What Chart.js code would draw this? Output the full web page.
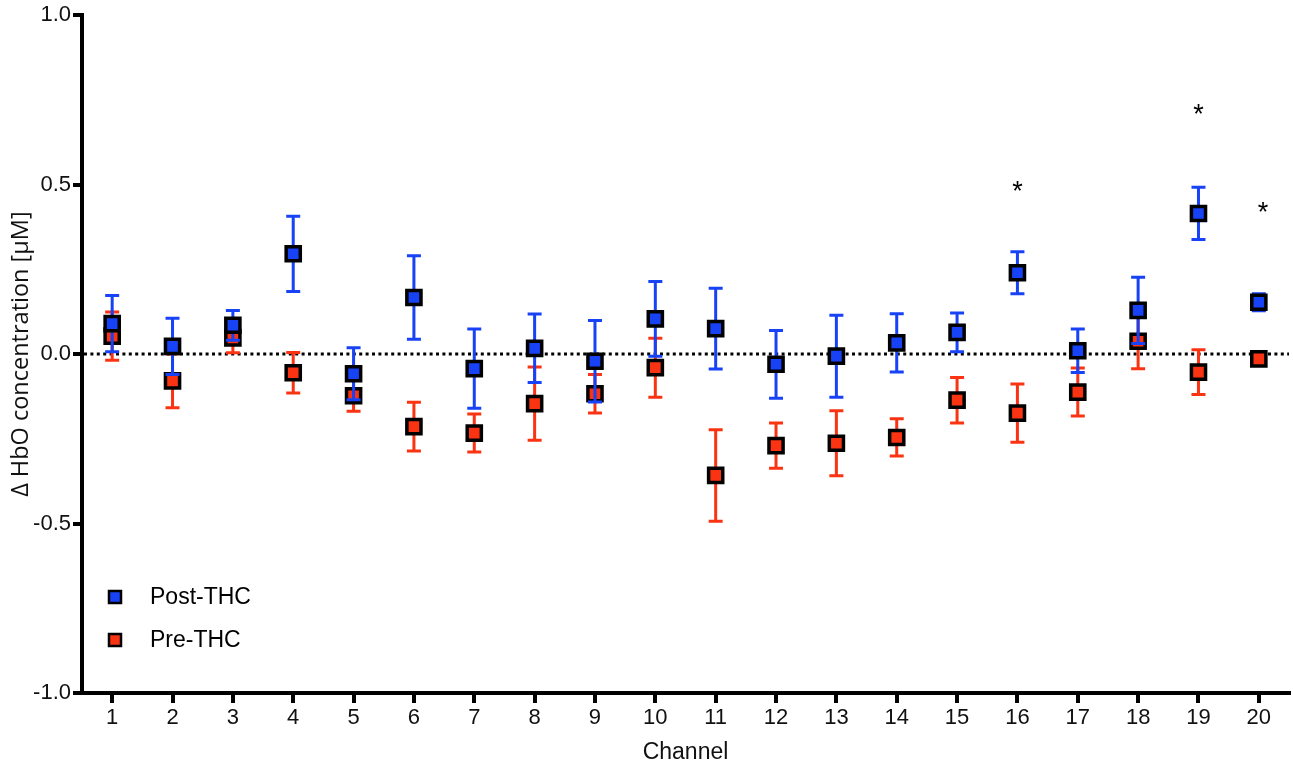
<!DOCTYPE html>
<html lang="en">
<head>
    <meta charset="UTF-8">
    <title>HbO by channel</title>
    <script src="https://cdn.jsdelivr.net/npm/chart.js"></script>
    <style>
        html, body { margin: 0; background: #fff; overflow: hidden; }
        #wrap { width: 1293px; height: 766px; }
    </style>
</head>
<body>
    <div id="wrap"><canvas id="hboChart"></canvas></div>

    <script>
        // values (mean and error per channel)
        const channels = [1, 2, 3, 4, 5, 6, 7, 8, 9, 10, 11, 12, 13, 14, 15, 16, 17, 18, 19, 20];
        const postMean = [0.09, 0.023, 0.085, 0.296, -0.058, 0.167, -0.043, 0.017, -0.021, 0.104,
                          0.075, -0.03, -0.006, 0.033, 0.064, 0.24, 0.01, 0.129, 0.415, 0.153];
        const postErr  = [0.083, 0.083, 0.044, 0.111, 0.077, 0.123, 0.117, 0.101, 0.12, 0.11,
                          0.119, 0.1, 0.121, 0.086, 0.057, 0.062, 0.064, 0.098, 0.077, 0.025];
        const preMean  = [0.053, -0.079, 0.048, -0.055, -0.123, -0.214, -0.233, -0.146, -0.117, -0.04,
                          -0.358, -0.27, -0.263, -0.246, -0.136, -0.174, -0.112, 0.038, -0.053, -0.014];
        const preErr   = [0.071, 0.079, 0.044, 0.06, 0.046, 0.072, 0.056, 0.108, 0.057, 0.087,
                          0.135, 0.067, 0.096, 0.055, 0.067, 0.086, 0.071, 0.081, 0.066, 0.01];
        const yTicks = [-1.0, -0.5, 0.0, 0.5, 1.0];
        // significance stars
        const starX = [16, 19, 20.07];
        const starY = [0.49, 0.72, 0.43];

        const BLUE = '#1742f5';
        const RED = '#fa3412';

        const errorBars = {
            id: 'errorBars',
            beforeDatasetDraw(chart, args) {
                const ds = chart.data.datasets[args.index];
                const y = chart.scales.y;
                const ctx = chart.ctx;
                ctx.save();
                ctx.strokeStyle = ds.barColor;
                ctx.lineWidth = 3;
                args.meta.data.forEach((pt, i) => {
                    const m = ds.data[i].y, e = ds.err[i];
                    const top = y.getPixelForValue(m + e);
                    const bot = y.getPixelForValue(m - e);
                    ctx.beginPath();
                    ctx.moveTo(pt.x, top); ctx.lineTo(pt.x, bot);
                    ctx.moveTo(pt.x - 7, top); ctx.lineTo(pt.x + 7, top);
                    ctx.moveTo(pt.x - 7, bot); ctx.lineTo(pt.x + 7, bot);
                    ctx.stroke();
                });
                ctx.restore();
            }
        };

        const zeroLine = {
            id: 'zeroLine',
            beforeDatasetsDraw(chart) {
                const {ctx, chartArea, scales} = chart;
                const y0 = scales.y.getPixelForValue(0);
                ctx.save();
                ctx.strokeStyle = '#000';
                ctx.lineWidth = 3;
                ctx.setLineDash([3, 3.4]);
                ctx.beginPath();
                ctx.moveTo(chartArea.left + 2, y0);
                ctx.lineTo(chartArea.right, y0);
                ctx.stroke();
                ctx.restore();
            }
        };

        const extras = {
            id: 'extras',
            afterDraw(chart) {
                const {ctx, chartArea, scales} = chart;
                ctx.save();
                // stars
                ctx.fillStyle = '#000';
                ctx.font = '27px "Liberation Sans", Arial, sans-serif';
                ctx.textAlign = 'center';
                ctx.textBaseline = 'middle';
                starX.forEach((sx, i) => {
                    ctx.fillText('*', scales.x.getPixelForValue(sx), scales.y.getPixelForValue(starY[i]) + 5);
                });
                // legend in the lower left corner
                ctx.textAlign = 'left';
                ctx.font = '23px "Liberation Sans", Arial, sans-serif';
                chart.data.datasets.forEach((ds, i) => {
                    const lx = chartArea.left + 33;
                    const ly = chartArea.bottom - 96 + i * 43;
                    ctx.fillStyle = ds.backgroundColor;
                    ctx.strokeStyle = '#000';
                    ctx.lineWidth = 2.5;
                    ctx.fillRect(lx - 6, ly - 6, 12, 12);
                    ctx.strokeRect(lx - 6, ly - 6, 12, 12);
                    ctx.fillStyle = '#000';
                    ctx.fillText(ds.label, lx + 35, ly + 1);
                });
                ctx.restore();
            }
        };

        function makeSet(label, means, errs, color) {
            return {
                label: label,
                data: channels.map((c, i) => ({x: c, y: means[i]})),
                err: errs,
                barColor: color,
                backgroundColor: color,
                borderColor: '#000',
                borderWidth: 3.5,
                pointStyle: 'rect',
                pointRadius: 10,
                pointHoverRadius: 10,
                showLine: false
            };
        }

        const ctx = document.getElementById('hboChart').getContext('2d');
        new Chart(ctx, {
            type: 'scatter',
            data: {
                datasets: [
                    makeSet('Post-THC', postMean, postErr, BLUE),
                    makeSet('Pre-THC', preMean, preErr, RED)
                ]
            },
            options: {
                responsive: true,
                maintainAspectRatio: false,
                animation: false,
                layout: { autoPadding: false, padding: { left: 0, top: 12, right: 4, bottom: 0 } },
                plugins: {
                    legend: { display: false },
                    tooltip: { enabled: false }
                },
                scales: {
                    x: {
                        type: 'linear',
                        min: 0.5,
                        max: 20.5,
                        afterBuildTicks: s => { s.ticks = channels.map(v => ({value: v})); },
                        afterFit: s => { s.height = 73; },
                        border: { display: true, color: '#000', width: 4 },
                        grid: { drawOnChartArea: false, color: '#000', lineWidth: 4, tickLength: 10 },
                        ticks: {
                            color: '#111',
                            padding: 2,
                            maxRotation: 0,
                            autoSkip: false,
                            font: { family: '"Liberation Sans", Arial, sans-serif', size: 22 },
                            callback: v => String(v)
                        },
                        title: {
                            display: true,
                            text: 'Channel',
                            color: '#111',
                            padding: { top: 0, bottom: 0 },
                            font: { family: '"Liberation Sans", Arial, sans-serif', size: 23 }
                        }
                    },
                    y: {
                        min: -1,
                        max: 1,
                        afterBuildTicks: s => { s.ticks = yTicks.map(v => ({value: v})); },
                        afterFit: s => { s.width = 82; },
                        border: { display: true, color: '#000', width: 4 },
                        grid: { drawOnChartArea: false, color: '#000', lineWidth: 4, tickLength: 9 },
                        ticks: {
                            color: '#111',
                            padding: 2,
                            font: { family: '"Liberation Sans", Arial, sans-serif', size: 22 },
                            callback: v => v.toFixed(1)
                        },
                        title: {
                            display: true,
                            text: 'Δ HbO concentration [µM]',
                            color: '#111',
                            padding: { top: 7, bottom: 0 },
                            font: { family: '"Open Sans", sans-serif', size: 23.5 }
                        }
                    }
                }
            },
            plugins: [zeroLine, errorBars, extras]
        });
    </script>
</body>
</html>
